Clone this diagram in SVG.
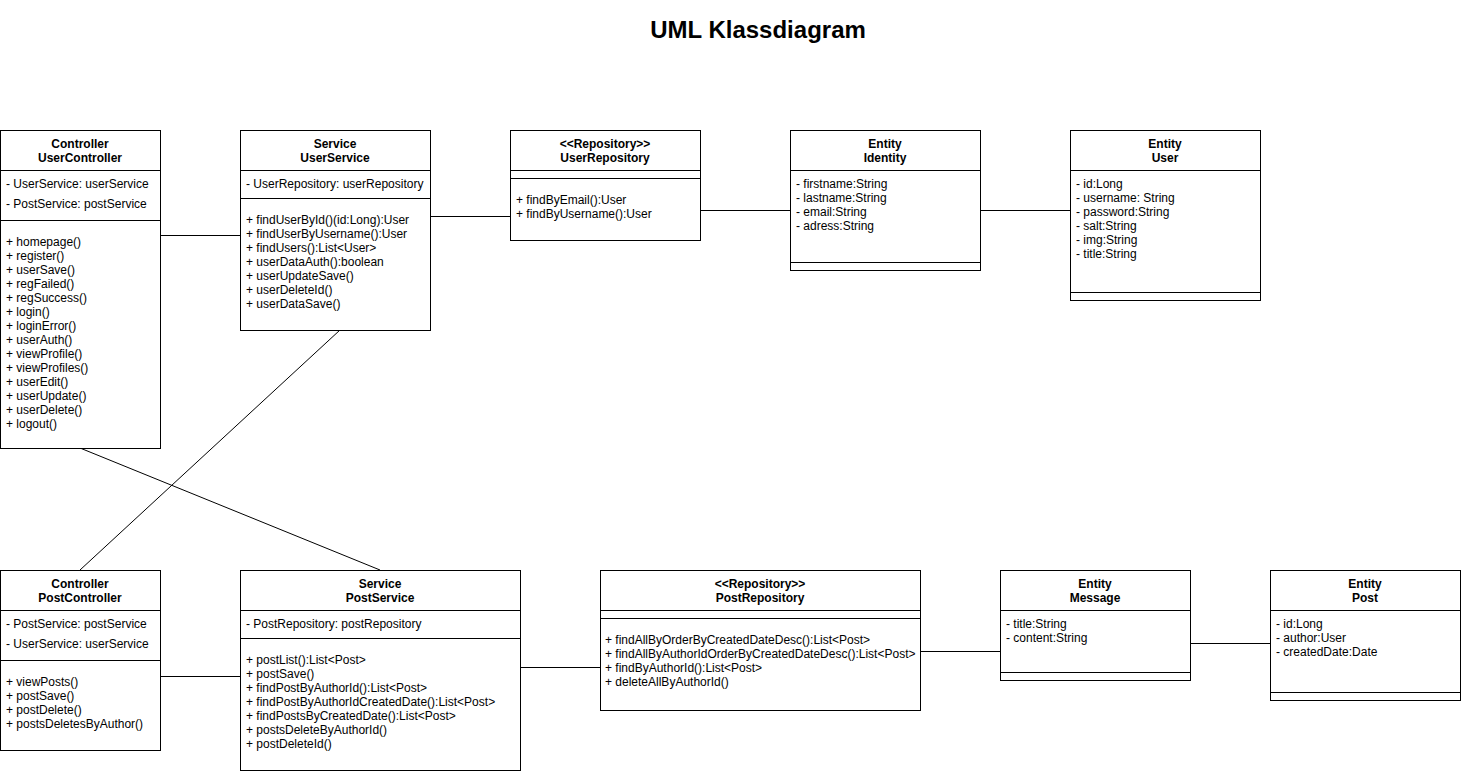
<svg xmlns="http://www.w3.org/2000/svg" width="1461" height="773" viewBox="0 0 1461 773">
<style>
text{font-family:"Liberation Sans",Arial,sans-serif;font-size:12px;fill:#000}
.h{font-weight:bold;text-anchor:middle}
.t{font-size:24px;font-weight:bold;text-anchor:middle}
rect{fill:#fff;stroke:#000;stroke-width:1}
line{stroke:#000;stroke-width:1}
</style>
<rect x="0" y="0" width="1461" height="773" style="stroke:none"/>
<text class="t" x="758" y="38">UML Klassdiagram</text>
<g id="connectors">
<line x1="160" y1="235.5" x2="240" y2="235.5"/>
<line x1="430" y1="216.5" x2="510" y2="216.5"/>
<line x1="700" y1="210.5" x2="790" y2="210.5"/>
<line x1="980" y1="210.5" x2="1070" y2="210.5"/>
<line x1="340" y1="330" x2="80" y2="570"/>
<line x1="80" y1="448" x2="380" y2="570"/>
<line x1="160" y1="676.5" x2="240" y2="676.5"/>
<line x1="520" y1="667.5" x2="600" y2="667.5"/>
<line x1="920" y1="651.5" x2="1000" y2="651.5"/>
<line x1="1190" y1="643.5" x2="1270" y2="643.5"/>
</g>
<g id="UserController">
<rect x="0.5" y="130.5" width="160" height="318"/>
<line x1="0.5" y1="170.5" x2="160.5" y2="170.5"/>
<line x1="0.5" y1="220.5" x2="160.5" y2="220.5"/>
<text class="h" x="80" y="148">Controller</text>
<text class="h" x="80" y="162">UserController</text>
<text x="6" y="188">- UserService: userService</text>
<text x="6" y="208">- PostService: postService</text>
<text x="6" y="246">+ homepage()</text>
<text x="6" y="260">+ register()</text>
<text x="6" y="274">+ userSave()</text>
<text x="6" y="288">+ regFailed()</text>
<text x="6" y="302">+ regSuccess()</text>
<text x="6" y="316">+ login()</text>
<text x="6" y="330">+ loginError()</text>
<text x="6" y="344">+ userAuth()</text>
<text x="6" y="358">+ viewProfile()</text>
<text x="6" y="372">+ viewProfiles()</text>
<text x="6" y="386">+ userEdit()</text>
<text x="6" y="400">+ userUpdate()</text>
<text x="6" y="414">+ userDelete()</text>
<text x="6" y="428">+ logout()</text>
</g>
<g id="UserService">
<rect x="240.5" y="130.5" width="190" height="200"/>
<line x1="240.5" y1="170.5" x2="430.5" y2="170.5"/>
<line x1="240.5" y1="198.5" x2="430.5" y2="198.5"/>
<text class="h" x="335" y="148">Service</text>
<text class="h" x="335" y="162">UserService</text>
<text x="246" y="188">- UserRepository: userRepository</text>
<text x="246" y="224">+ findUserById()(id:Long):User</text>
<text x="246" y="238">+ findUserByUsername():User</text>
<text x="246" y="252">+ findUsers():List&lt;User&gt;</text>
<text x="246" y="266">+ userDataAuth():boolean</text>
<text x="246" y="280">+ userUpdateSave()</text>
<text x="246" y="294">+ userDeleteId()</text>
<text x="246" y="308">+ userDataSave()</text>
</g>
<g id="UserRepository">
<rect x="510.5" y="130.5" width="190" height="110"/>
<line x1="510.5" y1="170.5" x2="700.5" y2="170.5"/>
<line x1="510.5" y1="178.5" x2="700.5" y2="178.5"/>
<text class="h" x="605" y="148">&lt;&lt;Repository&gt;&gt;</text>
<text class="h" x="605" y="162">UserRepository</text>
<text x="516" y="204">+ findByEmail():User</text>
<text x="516" y="218">+ findByUsername():User</text>
</g>
<g id="EntityIdentity">
<rect x="790.5" y="130.5" width="190" height="140"/>
<line x1="790.5" y1="170.5" x2="980.5" y2="170.5"/>
<line x1="790.5" y1="262.5" x2="980.5" y2="262.5"/>
<text class="h" x="885" y="148">Entity</text>
<text class="h" x="885" y="162">Identity</text>
<text x="796" y="188">- firstname:String</text>
<text x="796" y="202">- lastname:String</text>
<text x="796" y="216">- email:String</text>
<text x="796" y="230">- adress:String</text>
</g>
<g id="EntityUser">
<rect x="1070.5" y="130.5" width="190" height="170"/>
<line x1="1070.5" y1="170.5" x2="1260.5" y2="170.5"/>
<line x1="1070.5" y1="292.5" x2="1260.5" y2="292.5"/>
<text class="h" x="1165" y="148">Entity</text>
<text class="h" x="1165" y="162">User</text>
<text x="1076" y="188">- id:Long</text>
<text x="1076" y="202">- username: String</text>
<text x="1076" y="216">- password:String</text>
<text x="1076" y="230">- salt:String</text>
<text x="1076" y="244">- img:String</text>
<text x="1076" y="258">- title:String</text>
</g>
<g id="PostController">
<rect x="0.5" y="570.5" width="160" height="180"/>
<line x1="0.5" y1="610.5" x2="160.5" y2="610.5"/>
<line x1="0.5" y1="660.5" x2="160.5" y2="660.5"/>
<text class="h" x="80" y="588">Controller</text>
<text class="h" x="80" y="602">PostController</text>
<text x="6" y="628">- PostService: postService</text>
<text x="6" y="648">- UserService: userService</text>
<text x="6" y="686">+ viewPosts()</text>
<text x="6" y="700">+ postSave()</text>
<text x="6" y="714">+ postDelete()</text>
<text x="6" y="728">+ postsDeletesByAuthor()</text>
</g>
<g id="PostService">
<rect x="240.5" y="570.5" width="280" height="200"/>
<line x1="240.5" y1="610.5" x2="520.5" y2="610.5"/>
<line x1="240.5" y1="638.5" x2="520.5" y2="638.5"/>
<text class="h" x="380" y="588">Service</text>
<text class="h" x="380" y="602">PostService</text>
<text x="246" y="628">- PostRepository: postRepository</text>
<text x="246" y="664">+ postList():List&lt;Post&gt;</text>
<text x="246" y="678">+ postSave()</text>
<text x="246" y="692">+ findPostByAuthorId():List&lt;Post&gt;</text>
<text x="246" y="706">+ findPostByAuthorIdCreatedDate():List&lt;Post&gt;</text>
<text x="246" y="720">+ findPostsByCreatedDate():List&lt;Post&gt;</text>
<text x="246" y="734">+ postsDeleteByAuthorId()</text>
<text x="246" y="748">+ postDeleteId()</text>
</g>
<g id="PostRepository">
<rect x="600.5" y="570.5" width="320" height="140"/>
<line x1="600.5" y1="610.5" x2="920.5" y2="610.5"/>
<line x1="600.5" y1="618.5" x2="920.5" y2="618.5"/>
<text class="h" x="760" y="588">&lt;&lt;Repository&gt;&gt;</text>
<text class="h" x="760" y="602">PostRepository</text>
<text x="605" y="644">+ findAllByOrderByCreatedDateDesc():List&lt;Post&gt;</text>
<text x="605" y="658">+ findAllByAuthorIdOrderByCreatedDateDesc():List&lt;Post&gt;</text>
<text x="605" y="672">+ findByAuthorId():List&lt;Post&gt;</text>
<text x="605" y="686">+ deleteAllByAuthorId()</text>
</g>
<g id="EntityMessage">
<rect x="1000.5" y="570.5" width="190" height="110"/>
<line x1="1000.5" y1="610.5" x2="1190.5" y2="610.5"/>
<line x1="1000.5" y1="672.5" x2="1190.5" y2="672.5"/>
<text class="h" x="1095" y="588">Entity</text>
<text class="h" x="1095" y="602">Message</text>
<text x="1006" y="628">- title:String</text>
<text x="1006" y="642">- content:String</text>
</g>
<g id="EntityPost">
<rect x="1270.5" y="570.5" width="190" height="130"/>
<line x1="1270.5" y1="610.5" x2="1460.5" y2="610.5"/>
<line x1="1270.5" y1="692.5" x2="1460.5" y2="692.5"/>
<text class="h" x="1365" y="588">Entity</text>
<text class="h" x="1365" y="602">Post</text>
<text x="1276" y="628">- id:Long</text>
<text x="1276" y="642">- author:User</text>
<text x="1276" y="656">- createdDate:Date</text>
</g>
</svg>
